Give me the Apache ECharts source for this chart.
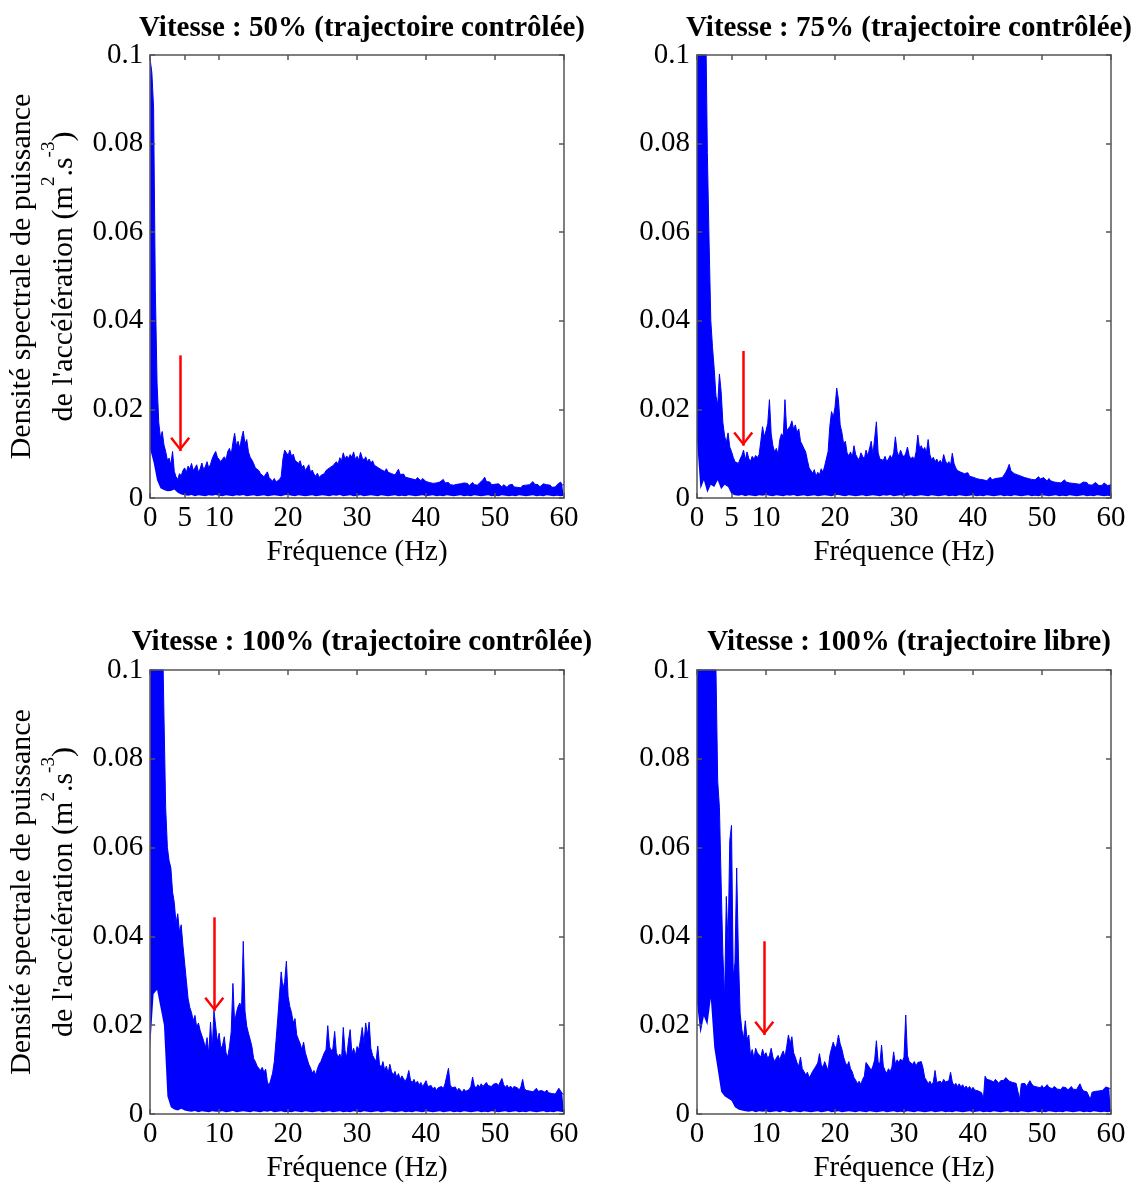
<!DOCTYPE html>
<html><head><meta charset="utf-8">
<script src="https://cdn.jsdelivr.net/npm/echarts@6/dist/echarts.min.js"></script>
<style>html,body{margin:0;padding:0;background:#fff}#c{width:1137px;height:1184px}</style>
</head><body><div id="c"></div>
<script>
// ---------------- data ----------------
const FREQ_STEP = 0.25;   // Hz between samples of the upper envelope arrays
const LO_STEP = 0.5;      // Hz between samples of the lower envelope arrays

const titles = [
  'Vitesse : 50% (trajectoire contrôlée)',
  'Vitesse : 75% (trajectoire contrôlée)',
  'Vitesse : 100% (trajectoire contrôlée)',
  'Vitesse : 100% (trajectoire libre)'
];
const xTicksTop = [0, 5, 10, 20, 30, 40, 50, 60];
const xTicksBottom = [0, 10, 20, 30, 40, 50, 60];
const xName = 'Fréquence (Hz)';
const yNameLine1 = 'Densité spectrale de puissance';
const yNameLine2 = "de l'accélération (m";

// upper envelope of the PSD (m^2.s^-3), every 0.25 Hz from 0 to 60 Hz
const hiP1 = [
0.099,0.096,0.088,0.047,0.026,0.017,0.0135,0.015,0.012,0.0105,0.0085,0.009,0.0075,0.0105,0.006,0.0048,0.0042,0.0055,0.005,0.0062,
0.0068,0.0058,0.0072,0.0065,0.0078,0.0062,0.0068,0.0075,0.0058,0.0066,0.0079,0.0064,0.0071,0.0082,0.0067,0.0076,0.0089,0.0098,0.0105,0.0092,
0.0095,0.0082,0.0088,0.0093,0.0086,0.0105,0.0112,0.0098,0.0125,0.0146,0.0118,0.0128,0.0112,0.0135,0.0151,0.0122,0.0132,0.0104,0.0092,0.0086,
0.0078,0.0068,0.0072,0.0062,0.0055,0.0058,0.0048,0.0052,0.0059,0.0046,0.0042,0.0038,0.0044,0.0036,0.004,0.0042,0.0048,0.0088,0.0108,0.0102,
0.0096,0.0108,0.0094,0.0099,0.0085,0.0089,0.0078,0.0084,0.0069,0.0074,0.0062,0.0066,0.0075,0.0058,0.0063,0.0054,0.0049,0.0056,0.0046,0.0051,
0.0048,0.0055,0.0062,0.0058,0.0068,0.0064,0.0073,0.0069,0.0082,0.0076,0.0091,0.0084,0.0102,0.0088,0.0095,0.0089,0.0098,0.0092,0.0104,0.0087,
0.0094,0.0086,0.0103,0.0091,0.0085,0.0093,0.0082,0.0088,0.0079,0.0084,0.0074,0.0078,0.0069,0.0073,0.0064,0.0068,0.006,0.0066,0.0058,0.0062,
0.0055,0.0059,0.0052,0.0056,0.0065,0.0053,0.0049,0.0054,0.0047,0.0051,0.0045,0.0049,0.0043,0.0047,0.0041,0.0046,0.0042,0.0039,0.0044,0.004,
0.0037,0.0041,0.0035,0.0038,0.0033,0.0037,0.0034,0.0031,0.0036,0.0032,0.0042,0.0034,0.0031,0.0035,0.003,0.0034,0.0029,0.0033,0.0031,0.0028,
0.0032,0.0029,0.0034,0.003,0.0033,0.0028,0.0031,0.0035,0.003,0.0033,0.0029,0.0034,0.0036,0.0041,0.0047,0.0037,0.0033,0.0036,0.003,0.0034,
0.0031,0.0027,0.0032,0.0029,0.0025,0.003,0.0027,0.0024,0.0029,0.0026,0.0031,0.0025,0.0028,0.0024,0.0027,0.0023,0.0028,0.0025,0.0029,0.0026,
0.003,0.0034,0.0037,0.0031,0.0027,0.003,0.0025,0.0028,0.0032,0.0035,0.003,0.0026,0.0029,0.0024,0.0028,0.0025,0.003,0.0034,0.0036,0.0029,0.0031
];
const hiP2 = [
0.16,0.16,0.15,0.14,0.12,0.11,0.078,0.058,0.04,0.034,0.029,0.023,0.021,0.028,0.024,0.017,0.014,0.0125,0.0147,0.0115,
0.0105,0.0092,0.0082,0.0085,0.0078,0.0088,0.0096,0.0108,0.0086,0.0104,0.0089,0.0083,0.0094,0.0088,0.0096,0.0091,0.0098,0.0128,0.0161,0.0138,
0.0152,0.0168,0.0222,0.0145,0.0118,0.0104,0.0112,0.0098,0.0132,0.0145,0.0138,0.0222,0.0152,0.0148,0.0162,0.0174,0.0155,0.0165,0.0148,0.0156,
0.0128,0.0132,0.0112,0.0104,0.0085,0.0068,0.0062,0.0056,0.0064,0.0049,0.0058,0.0052,0.0066,0.0058,0.0072,0.0068,0.0105,0.0162,0.0195,0.0182,
0.0205,0.0248,0.0222,0.0165,0.0148,0.0122,0.0128,0.0102,0.0095,0.0104,0.0092,0.0118,0.0098,0.0091,0.0086,0.0102,0.0094,0.0088,0.0108,0.0095,
0.0092,0.0128,0.0098,0.0094,0.0172,0.0102,0.0088,0.0092,0.0085,0.0094,0.0082,0.0088,0.0096,0.0089,0.0102,0.0138,0.0105,0.0094,0.0108,0.0098,
0.0092,0.0101,0.0115,0.0096,0.0088,0.0093,0.0086,0.0104,0.0142,0.0112,0.0118,0.0108,0.0114,0.0102,0.0132,0.0098,0.0086,0.0092,0.0082,0.0088,
0.0079,0.0085,0.0078,0.0098,0.0084,0.0076,0.0082,0.0074,0.0101,0.0078,0.0068,0.0062,0.0066,0.0058,0.0061,0.0055,0.0052,0.0057,0.0049,0.0053,
0.0047,0.0051,0.0044,0.0048,0.0042,0.0046,0.0041,0.0045,0.0039,0.0043,0.0047,0.0041,0.0038,0.0044,0.004,0.0045,0.0049,0.0046,0.0052,0.0058,
0.0066,0.0076,0.0061,0.0064,0.0055,0.0059,0.0052,0.0056,0.0049,0.0053,0.0046,0.005,0.0044,0.0048,0.0042,0.0046,0.0041,0.0045,0.0048,0.0043,
0.004,0.0046,0.0042,0.0038,0.0044,0.0039,0.0042,0.0036,0.004,0.0035,0.0039,0.0034,0.0038,0.0041,0.0036,0.0039,0.0034,0.0037,0.0033,0.0036,
0.0032,0.0035,0.0031,0.0034,0.0036,0.0032,0.0035,0.003,0.0033,0.0029,0.0032,0.0035,0.0031,0.0028,0.0032,0.0029,0.0034,0.0031,0.0028,0.0032,0.003
];
const hiP3 = [
0.15,0.16,0.17,0.16,0.15,0.14,0.13,0.112,0.09,0.069,0.06,0.057,0.0555,0.05,0.0476,0.043,0.0451,0.041,0.0426,0.038,
0.034,0.03,0.026,0.024,0.0228,0.021,0.0222,0.0195,0.0205,0.0188,0.0192,0.0165,0.0148,0.0172,0.0135,0.0207,0.0145,0.0232,0.0198,0.0162,
0.0182,0.0148,0.0155,0.0174,0.0138,0.0128,0.0152,0.0185,0.0294,0.0205,0.0228,0.0242,0.025,0.0238,0.0389,0.0232,0.0198,0.0182,0.0168,0.0152,
0.0125,0.0118,0.0108,0.0112,0.0098,0.0105,0.0094,0.0101,0.0072,0.0064,0.0078,0.0092,0.0118,0.0165,0.0215,0.0268,0.032,0.0282,0.0298,0.0344,
0.0265,0.0242,0.0228,0.0205,0.0215,0.0178,0.0168,0.0158,0.0145,0.0162,0.0138,0.0125,0.0112,0.0104,0.0092,0.0098,0.0088,0.0102,0.0112,0.0118,
0.0128,0.0138,0.0145,0.0199,0.0152,0.0142,0.0148,0.0186,0.0138,0.0128,0.0135,0.0124,0.0195,0.0142,0.0128,0.0165,0.019,0.0136,0.0148,0.0132,
0.0152,0.0145,0.0168,0.0195,0.0158,0.0205,0.0178,0.0207,0.0148,0.0132,0.0125,0.0118,0.0153,0.0112,0.0104,0.0118,0.0098,0.0108,0.0092,0.0112,
0.0095,0.0088,0.0096,0.0082,0.0091,0.0078,0.0086,0.0079,0.0074,0.0082,0.0098,0.0076,0.0071,0.0078,0.0068,0.0074,0.0065,0.0071,0.0062,0.0068,
0.0075,0.0062,0.0058,0.0064,0.0056,0.0061,0.0053,0.0059,0.0055,0.0062,0.0057,0.0068,0.0072,0.0103,0.0066,0.0059,0.0055,0.0061,0.0052,0.0058,
0.0054,0.0049,0.0056,0.0051,0.0048,0.0055,0.0062,0.0083,0.0064,0.0058,0.0066,0.0061,0.0068,0.0062,0.0066,0.0071,0.0064,0.0068,0.0062,0.0067,
0.0063,0.0069,0.0064,0.0068,0.008,0.0066,0.006,0.0065,0.0058,0.0063,0.0057,0.0062,0.0066,0.0059,0.0054,0.0061,0.0078,0.0058,0.0053,0.0057,
0.0052,0.0056,0.005,0.0054,0.0058,0.0051,0.0047,0.0053,0.0056,0.0049,0.0054,0.0048,0.0052,0.0046,0.005,0.0045,0.0049,0.0058,0.0052,0.0046,0.0044
];
const hiP4 = [
0.13,0.14,0.15,0.16,0.15,0.14,0.15,0.13,0.12,0.14,0.11,0.1,0.075,0.069,0.052,0.036,0.026,0.049,0.038,0.0616,
0.065,0.031,0.034,0.0554,0.036,0.0227,0.019,0.017,0.021,0.0168,0.0178,0.0132,0.0145,0.0125,0.0148,0.0138,0.0142,0.0128,0.0146,0.0132,
0.0138,0.0125,0.0132,0.0148,0.0128,0.0118,0.0126,0.0132,0.0122,0.0134,0.0142,0.0128,0.0152,0.0178,0.0158,0.0174,0.0138,0.0128,0.0115,0.0108,
0.0128,0.0102,0.0096,0.0088,0.0094,0.0082,0.0088,0.0096,0.0102,0.0108,0.0115,0.0136,0.0112,0.0104,0.0118,0.0108,0.0098,0.0132,0.0148,0.0162,
0.0148,0.0155,0.0178,0.0158,0.0146,0.0128,0.0116,0.0108,0.0118,0.0102,0.0095,0.0082,0.0076,0.0068,0.0074,0.0066,0.0078,0.0085,0.0116,0.0112,
0.0105,0.0098,0.0108,0.0122,0.0165,0.0118,0.0112,0.0155,0.0108,0.0098,0.0092,0.0102,0.0095,0.0106,0.014,0.0112,0.0122,0.0116,0.0124,0.0118,
0.0128,0.0223,0.0132,0.0118,0.0122,0.0112,0.0118,0.0108,0.0116,0.0112,0.0118,0.0104,0.0082,0.0076,0.0068,0.0074,0.0066,0.0072,0.0098,0.0071,
0.0068,0.0074,0.0069,0.0078,0.0072,0.0068,0.0075,0.0094,0.0072,0.0064,0.0069,0.0062,0.0068,0.0061,0.0066,0.0058,0.0063,0.0057,0.0062,0.0055,
0.006,0.0054,0.0058,0.0052,0.0056,0.0048,0.0033,0.0085,0.0078,0.0082,0.0076,0.0079,0.0072,0.0078,0.0074,0.0069,0.0075,0.0071,0.0076,0.0082,
0.0086,0.0074,0.0078,0.0071,0.0075,0.0069,0.0073,0.0033,0.0068,0.0064,0.0069,0.0062,0.0066,0.0075,0.0068,0.0063,0.0067,0.0061,0.0065,0.0059,
0.0064,0.0058,0.0062,0.0066,0.006,0.0064,0.0057,0.0062,0.0059,0.0056,0.006,0.0055,0.0061,0.0057,0.0059,0.0054,0.0058,0.0062,0.0056,0.006,
0.0055,0.0059,0.0068,0.0058,0.0052,0.0056,0.005,0.0048,0.0033,0.0049,0.0053,0.0051,0.0055,0.0052,0.0056,0.0053,0.0057,0.0061,0.0064,0.0058,0.0056
];

// lower edge of the dense blue band, every 0.5 Hz from 0 to 60 Hz
const loP1 = [
0.011,0.008,0.004,0.0022,0.0018,0.0015,0.0016,0.0019,0.0012,0.0008,
0.0006,0.0005,0.0007,0.0004,0.0006,0.0005,0.0004,0.0006,0.0005,0.0007,
0.0005,0.0004,0.0006,0.0005,0.0004,0.0006,0.0005,0.0007,0.0004,0.0005,
0.0006,0.0004,0.0005,0.0006,0.0004,0.0005,0.0006,0.0005,0.0004,0.0006,
0.0007,0.0005,0.0004,0.0006,0.0005,0.0004,0.0005,0.0006,0.0004,0.0005,
0.0006,0.0005,0.0004,0.0006,0.0005,0.0007,0.0004,0.0005,0.0006,0.0004,
0.0005,0.0006,0.0004,0.0005,0.0006,0.0005,0.0004,0.0006,0.0005,0.0004,
0.0005,0.0006,0.0004,0.0005,0.0004,0.0006,0.0005,0.0004,0.0005,0.0006,
0.0004,0.0005,0.0006,0.0004,0.0005,0.0004,0.0006,0.0005,0.0004,0.0005,
0.0006,0.0004,0.0005,0.0004,0.0006,0.0005,0.0004,0.0005,0.0006,0.0004,
0.0005,0.0004,0.0006,0.0005,0.0004,0.0005,0.0004,0.0006,0.0005,0.0004,
0.0005,0.0006,0.0004,0.0005,0.0004,0.0006,0.0005,0.0004,0.0005,0.0004,0.0005
];
const loP2 = [
0.013,0.002,0.004,0.0012,0.003,0.0025,0.004,0.002,0.003,0.0025,
0.0009,0.0006,0.0005,0.0007,0.0004,0.0006,0.0005,0.0004,0.0006,0.0005,
0.0007,0.0005,0.0004,0.0006,0.0005,0.0004,0.0006,0.0005,0.0007,0.0004,
0.0005,0.0006,0.0004,0.0005,0.0006,0.0004,0.0005,0.0006,0.0005,0.0004,
0.0006,0.0007,0.0005,0.0004,0.0006,0.0005,0.0004,0.0005,0.0006,0.0004,
0.0005,0.0006,0.0005,0.0004,0.0006,0.0005,0.0007,0.0004,0.0005,0.0006,
0.0004,0.0005,0.0006,0.0004,0.0005,0.0006,0.0005,0.0004,0.0006,0.0005,
0.0004,0.0005,0.0006,0.0004,0.0005,0.0004,0.0006,0.0005,0.0004,0.0005,
0.0006,0.0004,0.0005,0.0004,0.0006,0.0005,0.0004,0.0005,0.0006,0.0004,
0.0005,0.0004,0.0006,0.0005,0.0004,0.0005,0.0006,0.0004,0.0005,0.0004,
0.0006,0.0005,0.0004,0.0005,0.0006,0.0004,0.0005,0.0004,0.0006,0.0005,
0.0004,0.0005,0.0006,0.0004,0.0005,0.0004,0.0006,0.0005,0.0004,0.0005,0.0004
];
const loP3 = [
0.015,0.027,0.028,0.024,0.02,0.004,0.0015,0.001,0.0008,0.0012,
0.0008,0.0006,0.0005,0.0007,0.0004,0.0006,0.0005,0.0004,0.0006,0.0005,
0.0005,0.0006,0.0004,0.0005,0.0007,0.0004,0.0005,0.0006,0.0005,0.0004,
0.0006,0.0005,0.0004,0.0006,0.0005,0.0007,0.0004,0.0005,0.0006,0.0004,
0.0005,0.0004,0.0006,0.0005,0.0004,0.0006,0.0005,0.0004,0.0005,0.0006,
0.0004,0.0005,0.0006,0.0004,0.0005,0.0006,0.0004,0.0005,0.0004,0.0006,
0.0005,0.0004,0.0006,0.0005,0.0004,0.0005,0.0006,0.0004,0.0005,0.0006,
0.0005,0.0004,0.0005,0.0006,0.0004,0.0005,0.0004,0.0006,0.0005,0.0004,
0.0006,0.0005,0.0004,0.0005,0.0006,0.0004,0.0005,0.0006,0.0004,0.0005,
0.0004,0.0006,0.0005,0.0004,0.0005,0.0006,0.0004,0.0005,0.0004,0.0006,
0.0005,0.0004,0.0005,0.0006,0.0004,0.0005,0.0006,0.0004,0.0005,0.0004,
0.0006,0.0005,0.0004,0.0005,0.0006,0.0004,0.0005,0.0004,0.0006,0.0005,0.0004
];
const loP4 = [
0.025,0.018,0.022,0.02,0.026,0.015,0.01,0.005,0.004,0.0035,
0.003,0.0015,0.001,0.0008,0.0006,0.0005,0.0007,0.0004,0.0006,0.0005,
0.0006,0.0004,0.0005,0.0006,0.0004,0.0007,0.0005,0.0004,0.0006,0.0005,
0.0004,0.0006,0.0005,0.0004,0.0005,0.0006,0.0004,0.0005,0.0007,0.0004,
0.0005,0.0006,0.0004,0.0005,0.0006,0.0005,0.0004,0.0006,0.0005,0.0004,
0.0006,0.0005,0.0004,0.0005,0.0006,0.0004,0.0005,0.0006,0.0004,0.0005,
0.0004,0.0006,0.0005,0.0004,0.0006,0.0005,0.0004,0.0005,0.0006,0.0004,
0.0005,0.0006,0.0004,0.0005,0.0004,0.0006,0.0005,0.0004,0.0005,0.0006,
0.0004,0.0005,0.0006,0.0004,0.0005,0.0004,0.0006,0.0005,0.0004,0.0005,
0.0006,0.0004,0.0005,0.0004,0.0006,0.0005,0.0004,0.0005,0.0006,0.0004,
0.0005,0.0004,0.0006,0.0005,0.0004,0.0005,0.0004,0.0006,0.0005,0.0004,
0.0005,0.0006,0.0004,0.0005,0.0004,0.0006,0.0005,0.0004,0.0005,0.0004,0.0005
];

// red arrows: frequency (Hz), top value and tip value
const arrowFreq = [4.35, 6.7, 9.3, 9.75];
const arrowTop = [0.0322, 0.0332, 0.0443, 0.0389];
const arrowTip = [0.0106, 0.0118, 0.0232, 0.0178];

// ---------------- chart ----------------
const HI = [hiP1, hiP2, hiP3, hiP4];
const LO = [loP1, loP2, loP3, loP4];
const FONT = "'Liberation Serif', 'Times New Roman', serif";
const AXIS_COLOR = '#555';
const BLUE = '#0000ff';

const grids = [
  {left: 150, top: 55, width: 414, height: 443},
  {left: 697, top: 55, width: 414, height: 443},
  {left: 150, top: 670, width: 414, height: 444},
  {left: 697, top: 670, width: 414, height: 444}
];
const titleTops = [9, 9, 623, 623];

const chevron = 'path://M10,-3.5L10.05,-3.5L10.05,-3.45Z M10,10.5L20,23L18,24.5L10,14L2,24.5L0,23Z';

const axisLine = {show: true, onZero: false, lineStyle: {color: AXIS_COLOR, width: 1.5}};
const tickStyle = {color: AXIS_COLOR, width: 1.5};

const xAxes = [], yAxes = [], series = [], titleList = [];
for (let g = 0; g < 4; g++) {
  const ticks = g < 2 ? xTicksTop : xTicksBottom;
  xAxes.push({
    type: 'value', gridIndex: g, min: 0, max: 60, position: 'bottom', z: 5,
    axisLine: axisLine,
    axisTick: {show: true, inside: true, length: 5, customValues: ticks, lineStyle: tickStyle},
    axisLabel: {show: true, customValues: ticks, margin: 6, fontFamily: FONT, fontSize: 29, color: '#000'},
    splitLine: {show: false},
    name: xName, nameLocation: 'middle', nameGap: 40,
    nameTextStyle: {fontFamily: FONT, fontSize: 29, color: '#000'}
  });
  xAxes.push({
    type: 'value', gridIndex: g, min: 0, max: 60, position: 'top', z: 5,
    axisLine: axisLine,
    axisTick: {show: true, inside: true, length: 5, customValues: ticks, lineStyle: tickStyle},
    axisLabel: {show: false},
    splitLine: {show: false}
  });
  const yLeft = {
    type: 'value', gridIndex: g, min: 0, max: 0.1, interval: 0.02, position: 'left', z: 5,
    axisLine: axisLine,
    axisTick: {show: true, inside: true, length: 5, lineStyle: tickStyle},
    axisLabel: {show: true, margin: 7, fontFamily: FONT, fontSize: 29, color: '#000',
      formatter: v => String(+v.toFixed(4))},
    splitLine: {show: false}
  };
  if (g % 2 === 0) {
    yLeft.name = '{a|' + yNameLine1 + '}\n{a|' + yNameLine2 + '}{s|2}{a|.s}{s|-3}{a|)}';
    yLeft.nameLocation = 'middle';
    yLeft.nameRotate = 90;
    yLeft.nameGap = 60;
    yLeft.nameTextStyle = {
      fontFamily: FONT, fontSize: 30, color: '#000', lineHeight: 42,
      rich: {
        a: {fontFamily: FONT, fontSize: 30, color: '#000', lineHeight: 42},
        s: {fontFamily: FONT, fontSize: 19, color: '#000', lineHeight: 42, padding: [0, 0, 30, 0]}
      }
    };
  }
  yAxes.push(yLeft);
  yAxes.push({
    type: 'value', gridIndex: g, min: 0, max: 0.1, interval: 0.02, position: 'right', z: 5,
    axisLine: axisLine,
    axisTick: {show: true, inside: true, length: 5, lineStyle: tickStyle},
    axisLabel: {show: false},
    splitLine: {show: false}
  });

  const hi = HI[g], lo = LO[g];
  const hiData = [], loData = [];
  for (let i = 0; i < hi.length; i++) {
    hiData.push([i * FREQ_STEP, hi[i]]);
  }
  for (let j = 0; j < lo.length; j++) {
    loData.push([j * LO_STEP, lo[j]]);
  }
  // blue band: PSD upper envelope filled down to the axis
  series.push({
    type: 'line', xAxisIndex: 2 * g, yAxisIndex: 2 * g, z: 2,
    data: hiData, symbol: 'none', silent: true, clip: true,
    lineStyle: {color: BLUE, width: 1},
    itemStyle: {color: BLUE},
    areaStyle: {color: BLUE, opacity: 1, origin: 'start'},
    markLine: {
      silent: true, symbol: ['none', chevron], symbolSize: [20, 28],
      lineStyle: {color: '#ff0000', width: 2.5, type: 'solid'},
      label: {show: false}, emphasis: {disabled: true},
      data: [[{coord: [arrowFreq[g], arrowTop[g]]}, {coord: [arrowFreq[g], arrowTip[g]]}]]
    }
  });
  // white gap under the lower edge of the band
  series.push({
    type: 'line', xAxisIndex: 2 * g, yAxisIndex: 2 * g, z: 3,
    data: loData, symbol: 'none', silent: true, clip: true,
    lineStyle: {opacity: 0},
    areaStyle: {color: '#ffffff', opacity: 1, origin: 'start'}
  });

  titleList.push({
    text: titles[g], left: grids[g].left + grids[g].width / 2, top: titleTops[g], textAlign: 'center',
    textStyle: {fontFamily: FONT, fontWeight: 'bold', fontSize: 29, color: '#000'}
  });
}

const chart = echarts.init(document.getElementById('c'), null, {renderer: 'canvas'});
chart.setOption({
  animation: false,
  backgroundColor: '#fff',
  title: titleList,
  grid: grids,
  xAxis: xAxes,
  yAxis: yAxes,
  series: series
});
</script>
</body></html>
